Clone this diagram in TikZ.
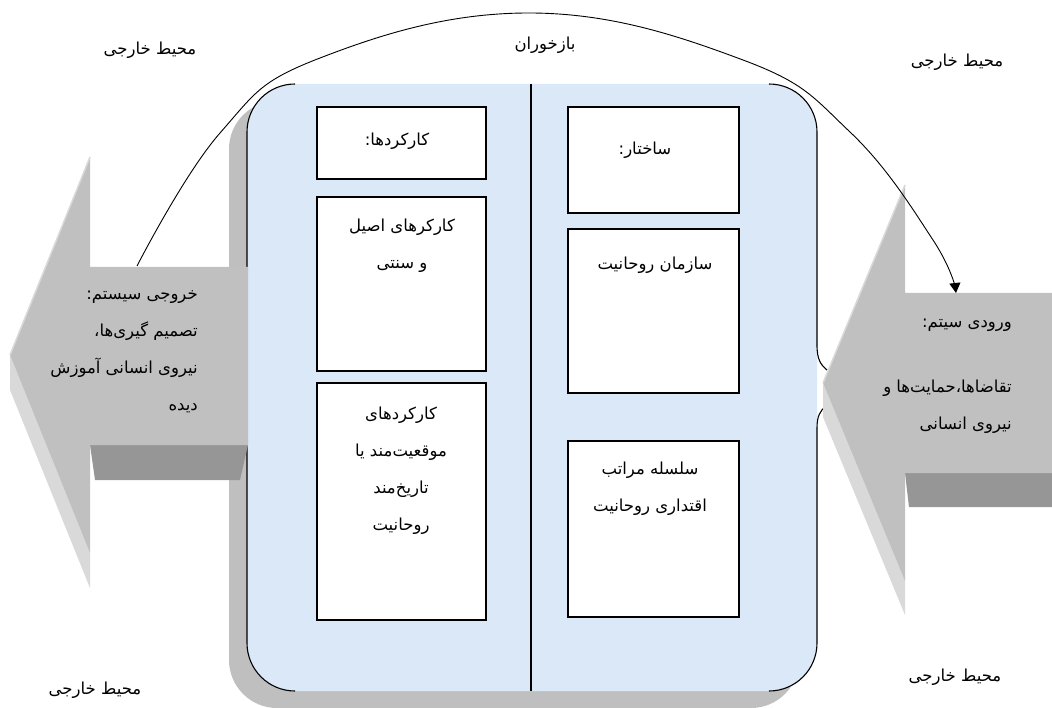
\documentclass[tikz,border=0pt]{standalone}
\usepackage{fontspec}
\newfontfamily\arabicfont[Script=Arabic]{DejaVu Sans}
\TeXXeTstate=1
\usetikzlibrary{arrows.meta}
\newcommand{\ar}[1]{\beginR #1\endR}
\definecolor{boxblue}{RGB}{218,232,247}
\definecolor{shadowgray}{RGB}{191,191,191}
\definecolor{arrowface}{RGB}{192,192,192}
\definecolor{arrowdark}{RGB}{150,150,150}
\definecolor{arrowlight}{RGB}{217,217,217}
\begin{document}
\begin{tikzpicture}[x=1pt,y=-1pt,
  txt/.style={font=\arabicfont\fontsize{16.5}{37}\selectfont, inner sep=0pt, align=center},
  whitebox/.style={draw=black, fill=white, line width=1.1pt},
  outline/.style={draw=black, line width=1.1pt},
]
\useasboundingbox (0,0) rectangle (1052,708);
% shadow and main box
\fill[shadowgray, rounded corners=48pt] (229,101) rectangle (799,708);
\fill[boxblue, rounded corners=48pt] (247,84) rectangle (817,691);
% outline brackets
\draw[outline, rounded corners=48pt] (295,84) -- (247,84) -- (247,691) -- (295,691);
\draw[outline, rounded corners=48pt] (769,84) -- (817,84) -- (817,345);
\draw[outline] (817,345) .. controls (817,360) and (821,365) .. (827,370);
\draw[outline] (826,406) .. controls (820,411) and (817,416) .. (817,428);
\draw[outline, rounded corners=48pt] (817,428) -- (817,691) -- (769,691);
\draw[outline] (531,84) -- (531,691);
% inner boxes
\draw[whitebox] (317,107) rectangle (486,179) coordinate (L1);
\draw[whitebox] (317,197) rectangle (486,371) coordinate (L2);
\draw[whitebox] (317,383) rectangle (486,620) coordinate (L3);
\draw[whitebox] (568,107) rectangle (739,213) coordinate (R1);
\draw[whitebox] (568,229) rectangle (739,393) coordinate (R2);
\draw[whitebox] (568,441) rectangle (739,617) coordinate (R3);
% left (output) arrow
\fill[arrowlight] (10,355) -- (90,553) -- (90,588) -- (10,390) -- cycle;
\fill[arrowdark] (90,445) -- (248,445) -- (240,480) -- (95,480) -- cycle;
\fill[arrowface] (10,355) -- (90,157) -- (90,267) -- (248,267) -- (248,445) -- (90,445) -- (90,553) -- cycle;
\draw[arrowlight, line width=1.5pt] (10,355) -- (90,157);
% right (input) arrow
\fill[arrowlight] (823,383) -- (905,581) -- (905,615) -- (823,417) -- cycle;
\fill[arrowdark] (905,473) -- (1052,473) -- (1052,507) -- (909,507) -- cycle;
\fill[arrowface] (823,383) -- (905,185) -- (905,293) -- (1052,293) -- (1052,473) -- (905,473) -- (905,581) -- cycle;
\draw[arrowlight, line width=1.5pt] (823,383) -- (905,185);
% feedback arc
\coordinate (fbstart) at (137,266);
\coordinate (fbend) at (956,293);
\draw[line width=0.9pt, -{Triangle[length=10pt,width=11pt]}] plot[smooth, tension=0.7] coordinates {(fbstart) (220,133) (320,58) (531,13) (743,60) (850,132) (933,240) (fbend)};
% texts
\node[txt] (tl) at (150,50) {\ar{محیط خارجی}};
\node[txt] (fb) at (545,45) {\ar{بازخوران}};
\node[txt] (tr) at (957,62) {\ar{محیط خارجی}};
\node[txt] (bl) at (95,690) {\ar{محیط خارجی}};
\node[txt] (br) at (955,677) {\ar{محیط خارجی}};
\node[txt] (t1) at (397,141) {\ar{کارکردها:}};
\node[txt] (t2) at (402,246) {\ar{کارکرهای اصیل}\\\ar{و سنتی}};
\node[txt] (t3) at (401,471) {\ar{کارکردهای}\\\ar{موقعیت‌مند یا}\\\ar{تاریخ‌مند}\\\ar{روحانیت}};
\node[txt] (t4) at (645,150) {\ar{ساختار:}};
\node[txt] (t5) at (655,265) {\ar{سازمان روحانیت}};
\node[txt] (t6) at (650,489) {\ar{سلسله مراتب}\\\ar{اقتداری روحانیت}};
\node[txt, align=right, anchor=east] (out) at (198,352) {\ar{خروجی سیستم:}\\\ar{تصمیم گیری‌ها،}\\\ar{نیروی انسانی آموزش}\\\ar{دیده}};
\node[txt, align=right, anchor=east] (in1) at (1012,325) {\ar{ورودی سیتم:}};
\node[txt, align=right, anchor=east] (in2) at (1012,407) {\ar{تقاضاها،حمایت‌ها و}\\\ar{نیروی انسانی}};
\end{tikzpicture}
\end{document}
